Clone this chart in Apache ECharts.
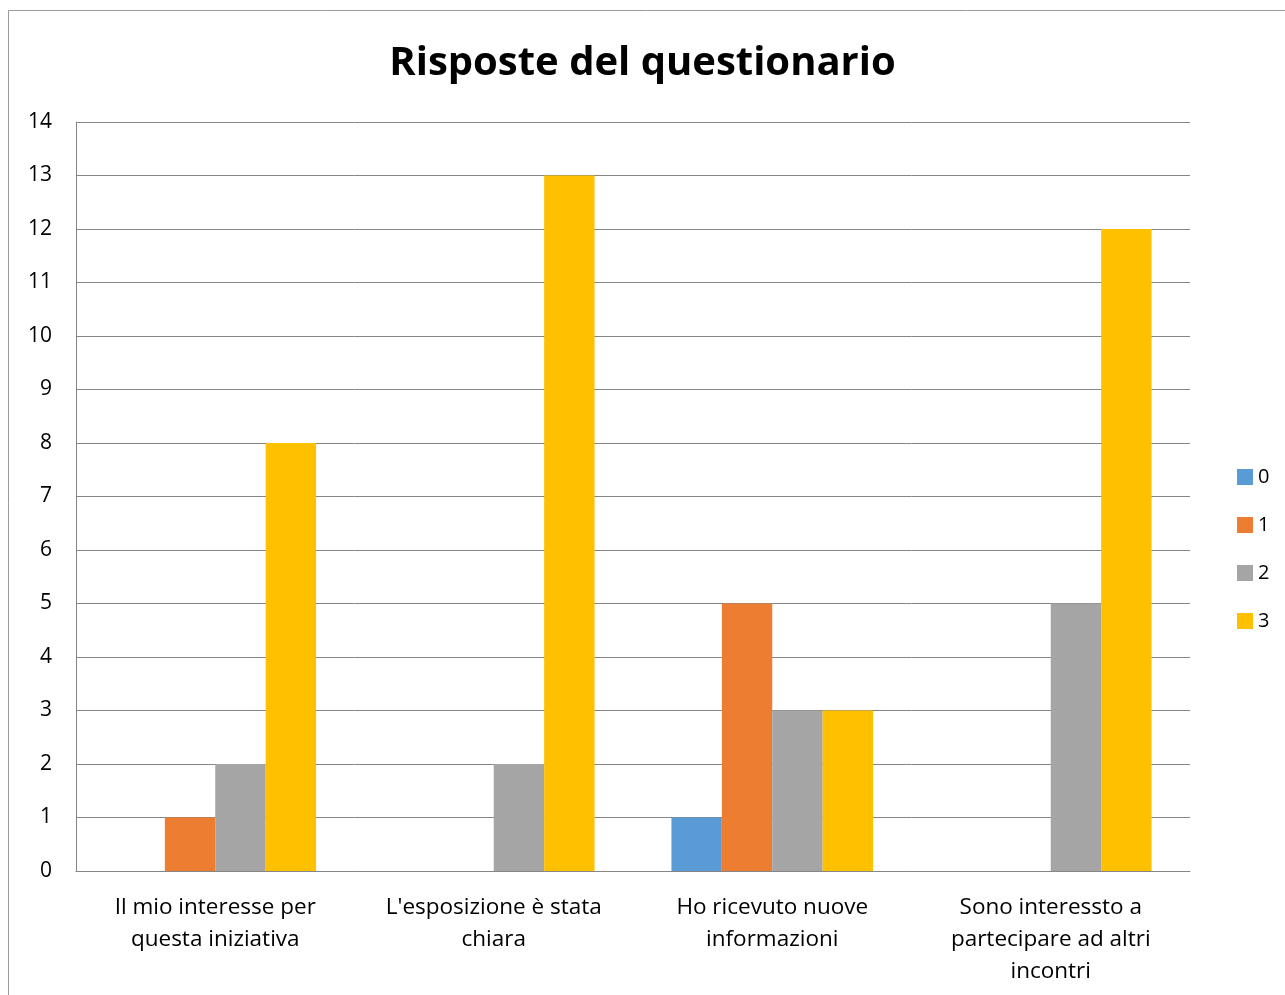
<!DOCTYPE html>
<html><head><meta charset="utf-8">
<script src="https://cdn.jsdelivr.net/npm/echarts@6/dist/echarts.min.js"></script>
<style>html,body{margin:0;padding:0;background:#fff}#c{width:1285px;height:995px}</style>
</head><body><div id="c"></div>
<script>
const title = 'Risposte del questionario';
const categories = ['Il mio interesse per\nquesta iniziativa', "L'esposizione è stata\nchiara", 'Ho ricevuto nuove\ninformazioni', 'Sono interessto a\npartecipare ad altri\nincontri'];
const seriesNames = ['0', '1', '2', '3'];
const s0 = [0, 0, 1, 0];
const s1 = [1, 0, 5, 0];
const s2 = [2, 2, 3, 5];
const s3 = [8, 13, 3, 12];
const colors = ['#5B9BD5', '#ED7D31', '#A5A5A5', '#FFC000'];
const values = [s0, s1, s2, s3];
const font = '"Open Sans", Lato, sans-serif';

const chart = echarts.init(document.getElementById('c'), null, {renderer: 'canvas'});
chart.setOption({
  animation: false,
  title: {text: title, left: 'center', top: 39, textStyle: {fontFamily: font, fontWeight: 'bold', fontSize: 40, color: '#000'}},
  legend: {orient: 'vertical', left: 1232, top: 462, itemWidth: 16, itemHeight: 16, itemGap: 28,
    icon: 'rect', textStyle: {fontFamily: font, fontSize: 20, color: '#000'},
    data: seriesNames},
  grid: {left: 76, right: 95, top: 122, bottom: 124, containLabel: false},
  xAxis: {type: 'category', data: categories,
    axisLine: {show: true, lineStyle: {color: '#868686', width: 1}},
    axisTick: {show: false},
    axisLabel: {interval: 0, margin: 21, fontFamily: font, fontSize: 22.5, color: '#000', lineHeight: 32}},
  yAxis: {type: 'value', min: 0, max: 14, interval: 1,
    axisLine: {show: true, lineStyle: {color: '#868686', width: 1}},
    axisTick: {show: false},
    splitLine: {lineStyle: {color: '#868686', width: 1}},
    axisLabel: {margin: 24, fontFamily: font, fontSize: 21, color: '#000', padding: [5, 0, 0, 0]}},
  series: seriesNames.map((n, i) => ({
    name: n, type: 'bar', data: values[i], barGap: '0%', barCategoryGap: '27.6%',
    itemStyle: {color: colors[i]}
  })),
  graphic: [{type: 'rect', shape: {x: 8.5, y: 10.5, width: 1300, height: 1000},
    style: {fill: 'none', stroke: '#9a9a9a', lineWidth: 1}, silent: true, z: -1}]
});
</script></body></html>
